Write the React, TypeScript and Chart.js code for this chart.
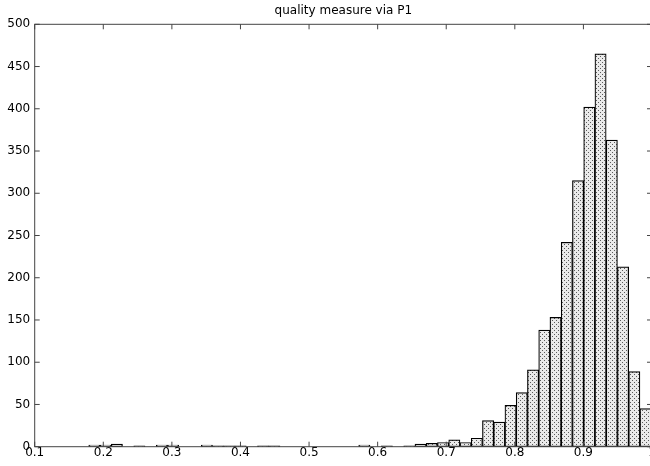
import React, { useEffect, useRef } from "react";
import { Chart, registerables } from "chart.js";

Chart.register(...registerables);

// ---- data ----
const chartTitle = "quality measure via P1";
// histogram: 50 equal bins starting at binStart, each binWidth wide
const binStart = 0.1788;
const binWidth = 0.0164;
const binCounts = [
  2, 2, 3, 0, 1, 0, 2, 2, 0, 0,
  2, 1, 1, 1, 0, 1, 1, 0, 0, 0,
  0, 0, 0, 0, 2, 0, 1, 0, 1, 3,
  4, 5, 8, 5, 10, 31, 29, 49, 64, 91,
  138, 153, 242, 315, 402, 465, 363, 213, 89, 45,
];
const xMin = 0.1;
const xMax = 1.0;
const xStep = 0.1;
const yMin = 0;
const yMax = 500;
const yStep = 50;

export default function App() {
  const ref = useRef<HTMLCanvasElement | null>(null);

  useEffect(() => {
    const canvas = ref.current;
    if (!canvas) return;

    // dotted fill pattern like the MATLAB bars
    const pc = document.createElement("canvas");
    pc.width = 4;
    pc.height = 4;
    const pctx = pc.getContext("2d")!;
    pctx.fillStyle = "#eaeaea";
    pctx.fillRect(0, 0, 4, 4);
    pctx.fillStyle = "#5a5a5a";
    pctx.fillRect(0, 0, 1, 1);
    pctx.fillRect(2, 2, 1, 1);
    const pattern = canvas.getContext("2d")!.createPattern(pc, "repeat");

    const points = binCounts.map((c, i) => ({
      x: binStart + (i + 0.5) * binWidth,
      y: c,
    }));

    const boxPlugin = {
      id: "matlabBox",
      afterDatasetsDraw(chart: any) {
        const { ctx, chartArea: a, scales } = chart;
        ctx.save();
        ctx.strokeStyle = "#444";
        ctx.lineWidth = 1;
        ctx.strokeRect(a.left, a.top, a.right - a.left, a.bottom - a.top);
        ctx.beginPath();
        const tl = 5;
        scales.x.ticks.forEach((t: any) => {
          const px = scales.x.getPixelForValue(t.value);
          ctx.moveTo(px, a.bottom);
          ctx.lineTo(px, a.bottom - tl);
          ctx.moveTo(px, a.top);
          ctx.lineTo(px, a.top + tl);
        });
        scales.y.ticks.forEach((t: any) => {
          const py = scales.y.getPixelForValue(t.value);
          ctx.moveTo(a.left, py);
          ctx.lineTo(a.left + tl, py);
          ctx.moveTo(a.right, py);
          ctx.lineTo(a.right - tl, py);
        });
        ctx.stroke();
        ctx.fillStyle = "#000";
        ctx.font = "12px 'DejaVu Sans'";
        ctx.textAlign = "center";
        ctx.textBaseline = "alphabetic";
        ctx.fillText(chartTitle, (a.left + a.right) / 2, 14);
        ctx.restore();
      },
    };

    const tickFont = { family: "'DejaVu Sans'", size: 12 };

    const chart = new Chart(canvas, {
      type: "bar",
      data: {
        datasets: [
          {
            data: points,
            backgroundColor: pattern as any,
            borderColor: "#000",
            borderWidth: 1.2,
            borderSkipped: false,
            barPercentage: 1,
            categoryPercentage: 1,
          },
        ],
      },
      options: {
        responsive: false,
        animation: false,
        layout: { padding: { top: 24.3, right: 8, bottom: 0, left: 0 } },
        plugins: {
          legend: { display: false },
          tooltip: { enabled: false },
          title: { display: false },
        },
        scales: {
          x: {
            type: "linear",
            min: xMin,
            max: xMax,
            offset: false,
            grid: { display: false, drawTicks: false },
            border: { display: false },
            ticks: {
              stepSize: xStep,
              padding: -1.5,
              color: "#000",
              font: tickFont,
              maxRotation: 0,
              autoSkip: false,
              callback: (v: any) => String(Number(Number(v).toFixed(1))),
            },
            afterFit: (scale: any) => {
              scale.height = 19.3;
            },
          },
          y: {
            min: yMin,
            max: yMax,
            grid: { display: false, drawTicks: false },
            border: { display: false },
            ticks: {
              stepSize: yStep,
              padding: 4.5,
              color: "#000",
              font: tickFont,
            },
            afterFit: (scale: any) => {
              scale.width = 34.7;
            },
          },
        },
      },
      plugins: [boxPlugin],
    });

    return () => {
      chart.destroy();
    };
  }, []);

  return (
    <div
      style={{
        position: "fixed",
        left: 0,
        top: 0,
        width: 650,
        height: 466,
        overflow: "hidden",
        background: "#fff",
      }}
    >
      <canvas
        ref={ref}
        width={660}
        height={466}
        style={{ display: "block", width: 660, height: 466 }}
      />
    </div>
  );
}
